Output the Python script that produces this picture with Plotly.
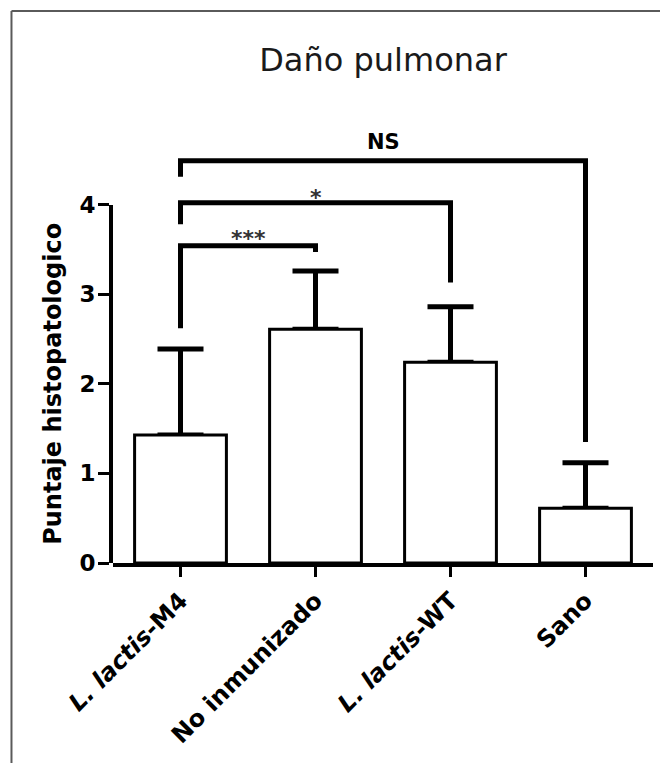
import plotly.graph_objects as go

# Histopathology score per group (mean and SD)
groups = ["L. lactis-M4", "No inmunizado", "L. lactis-WT", "Sano"]
tick_labels = ["<i>L. lactis</i>-M4", "No inmunizado", "<i>L. lactis</i>-WT", "Sano"]
means = [1.43, 2.61, 2.24, 0.61]
sds = [0.96, 0.65, 0.62, 0.51]
y_ticks = [0, 1, 2, 3, 4]

# Significance brackets: from group, to group, bar height, leg ends, label
bracket_from = [0, 0, 0]
bracket_to = [1, 2, 3]
bracket_top = [3.54, 4.02, 4.49]
bracket_left_end = [2.62, 3.78, 4.31]
bracket_right_end = [3.47, 3.13, 1.35]
bracket_text = ["***", "*", "NS"]
bracket_text_y = [3.62, 4.08, 4.70]
bracket_text_size = [22, 22, 21]
bracket_text_color = ["#333333", "#333333", "#000000"]

FONT = "DejaVu Sans"
x_pos = list(range(len(groups)))
y_top = 4.9  # headroom above the scale for the brackets

fig = go.Figure()

# error bars (upper only), drawn beneath the bars
fig.add_trace(go.Bar(
    x=x_pos, y=means, width=0.68,
    marker=dict(color="rgba(0,0,0,0)", line=dict(width=0)),
    error_y=dict(type="data", symmetric=False, array=sds,
                 arrayminus=[0] * len(sds), color="black",
                 thickness=5, width=23),
    hoverinfo="skip", showlegend=False,
))
# open bars
fig.add_trace(go.Bar(
    x=x_pos, y=means, width=0.68,
    marker=dict(color="white", line=dict(color="black", width=3)),
    text=groups, textposition="none",
    hoverinfo="text+y", showlegend=False,
))
# empty trace that places the visible 0-4 score axis
fig.add_trace(go.Scatter(
    x=[x_pos[0]], y=[0], xaxis="x", yaxis="y2", mode="markers",
    marker=dict(opacity=0), hoverinfo="skip", showlegend=False,
))

shapes = []
for a, b, top, le, re in zip(bracket_from, bracket_to, bracket_top,
                             bracket_left_end, bracket_right_end):
    shapes.append(dict(
        type="path", xref="x", yref="y",
        path=f"M {a},{le} L {a},{top} L {b},{top} L {b},{re}",
        line=dict(color="black", width=5),
    ))

# frame around the figure (top and left edges)
frame = dict(color="#5a5a5a", width=2)
shapes.append(dict(type="line", xref="paper", yref="paper",
                   x0=-0.188, x1=1.02, y0=1.2574, y1=1.2574, line=frame))
shapes.append(dict(type="line", xref="paper", yref="paper",
                   x0=-0.188, x1=-0.188, y0=-0.46, y1=1.2574, line=frame))

annotations = []
for a, b, t, ty, ts, tc in zip(bracket_from, bracket_to, bracket_text,
                               bracket_text_y, bracket_text_size,
                               bracket_text_color):
    annotations.append(dict(
        x=(a + b) / 2, y=ty, xref="x", yref="y", text=t, showarrow=False,
        font=dict(family=FONT, size=ts, color=tc, weight=700),
        xanchor="center", yanchor="middle",
    ))

fig.update_layout(
    width=660, height=763,
    margin=dict(l=113, r=7, t=124, b=200),
    paper_bgcolor="white", plot_bgcolor="rgba(0,0,0,0)",
    barmode="overlay",
    showlegend=False,
    title=dict(text="Daño pulmonar", x=0.5, xref="paper", xanchor="center",
               y=1 - 60 / 763, yref="container", yanchor="middle",
               font=dict(family=FONT, size=32, color="#1a1a1a")),
    xaxis=dict(range=[-0.5, 3.5], tickvals=x_pos, ticktext=tick_labels,
               tickangle=-45, ticks="outside", ticklen=10, tickwidth=3,
               tickcolor="black", showline=True, linewidth=4,
               linecolor="black", showgrid=False, zeroline=False,
               tickfont=dict(family=FONT, size=24, color="black", weight=700)),
    yaxis=dict(range=[0, y_top], domain=[0, 1], visible=False,
               showgrid=False, zeroline=False),
    yaxis2=dict(anchor="x", domain=[0, 4 / y_top], range=[0, 4],
                tickvals=y_ticks, ticks="outside", ticklen=11, tickwidth=3,
                tickcolor="black", showline=True, linewidth=4,
                linecolor="black", showgrid=False, zeroline=False,
                ticklabelstandoff=-2,
                tickfont=dict(family=FONT, size=23, color="black", weight=700),
                title=dict(text="Puntaje histopatologico", standoff=12,
                           font=dict(family=FONT, size=24, color="black",
                                     weight=700))),
    shapes=shapes,
    annotations=annotations,
)

fig.write_html("out.html")
